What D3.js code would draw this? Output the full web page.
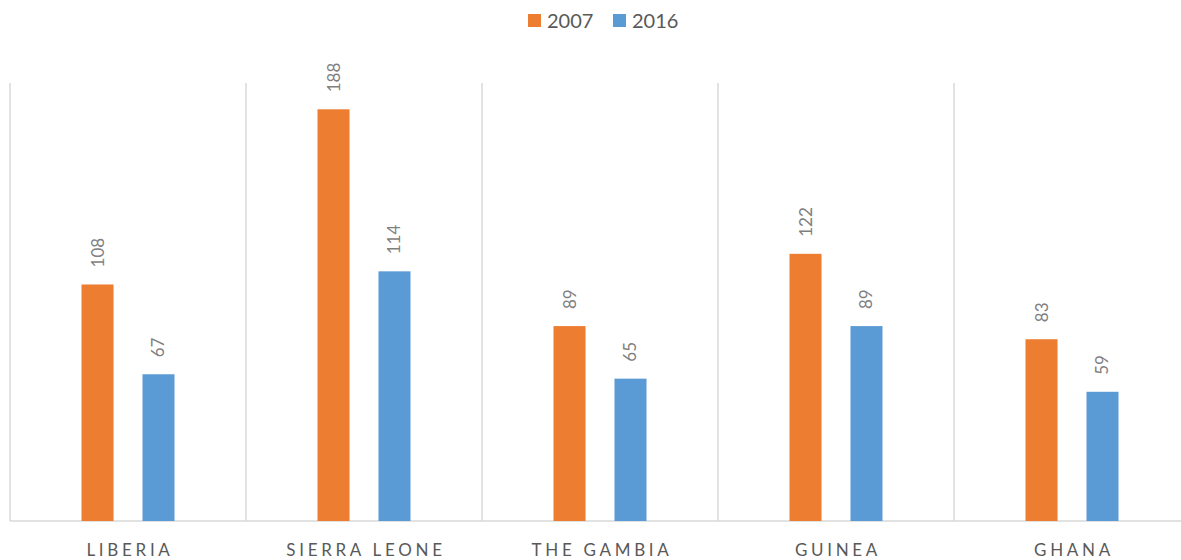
<!DOCTYPE html>
<html lang="en">
<head>
<meta charset="UTF-8">
<title>2007 vs 2016</title>
<script src="https://cdn.jsdelivr.net/npm/d3@7"></script>
<style>
  body { margin: 0; background: #fff; }
  text { font-family: Lato, "Open Sans", sans-serif; }
</style>
</head>
<body>
<div id="chart"></div>
<script>
// data
const countries = ["LIBERIA", "SIERRA LEONE", "THE GAMBIA", "GUINEA", "GHANA"];
const years = ["2007", "2016"];
const values2007 = [108, 188, 89, 122, 83];
const values2016 = [67, 114, 65, 89, 59];
const colors = ["#ed7d31", "#5b9bd5"];

const w = 1181, h = 560;
const plotLeft = 10, plotRight = 1190, plotTop = 83, plotBottom = 521;

const svg = d3.select("#chart").append("svg")
    .attr("width", w)
    .attr("height", h);

const x = d3.scaleBand()
    .domain(countries)
    .range([plotLeft, plotRight]);

const xInner = d3.scaleBand()
    .domain(years)
    .range([x.bandwidth() / 2 - 46.5, x.bandwidth() / 2 + 46.5])
    .paddingInner(0.475)
    .paddingOuter(0);

const y = d3.scaleLinear()
    .domain([0, 200])
    .range([plotBottom, plotTop]);

// vertical separators
svg.append("g")
  .selectAll("line")
  .data(countries)
  .enter().append("line")
    .attr("x1", d => x(d))
    .attr("x2", d => x(d))
    .attr("y1", plotTop)
    .attr("y2", plotBottom)
    .attr("stroke", "#d9d9d9")
    .attr("stroke-width", 1.5);

// baseline
svg.append("line")
    .attr("x1", plotLeft)
    .attr("x2", plotRight)
    .attr("y1", plotBottom)
    .attr("y2", plotBottom)
    .attr("stroke", "#d9d9d9")
    .attr("stroke-width", 1.5);

const rows = countries.map((c, i) => ({
  country: c,
  vals: [{ year: "2007", v: values2007[i] }, { year: "2016", v: values2016[i] }]
}));

const groups = svg.append("g")
  .selectAll("g")
  .data(rows)
  .enter().append("g")
    .attr("transform", d => "translate(" + x(d.country) + ",0)");

groups.selectAll("rect")
  .data(d => d.vals)
  .enter().append("rect")
    .attr("x", d => xInner(d.year))
    .attr("width", xInner.bandwidth())
    .attr("y", d => y(d.v))
    .attr("height", d => plotBottom - y(d.v))
    .attr("fill", (d, i) => colors[i]);

// value labels, rotated
groups.selectAll("text.val")
  .data(d => d.vals)
  .enter().append("text")
    .attr("class", "val")
    .attr("transform", d => "translate(" + (xInner(d.year) + xInner.bandwidth() / 2 + 6) + "," + (y(d.v) - 17) + ") rotate(-90)")
    .attr("text-anchor", "start")
    .attr("fill", "#7f7f7f")
    .style("font-size", "17px")
    .text(d => d.v);

// category labels
svg.append("g")
  .selectAll("text")
  .data(countries)
  .enter().append("text")
    .attr("x", d => x(d) + x.bandwidth() / 2 + 2)
    .attr("y", 556)
    .attr("text-anchor", "middle")
    .attr("fill", "#595959")
    .style("font-size", "17px")
    .style("letter-spacing", "3.7px")
    .text(d => d);

// legend
const legend = svg.append("g");
const legendX = [528, 613];
years.forEach((yr, i) => {
  legend.append("rect")
      .attr("x", legendX[i])
      .attr("y", 14)
      .attr("width", 13)
      .attr("height", 13)
      .attr("fill", colors[i]);
  legend.append("text")
      .attr("x", legendX[i] + 19)
      .attr("y", 28)
      .attr("fill", "#595959")
      .style("font-size", "20px")
      .text(yr);
});
</script>
</body>
</html>
